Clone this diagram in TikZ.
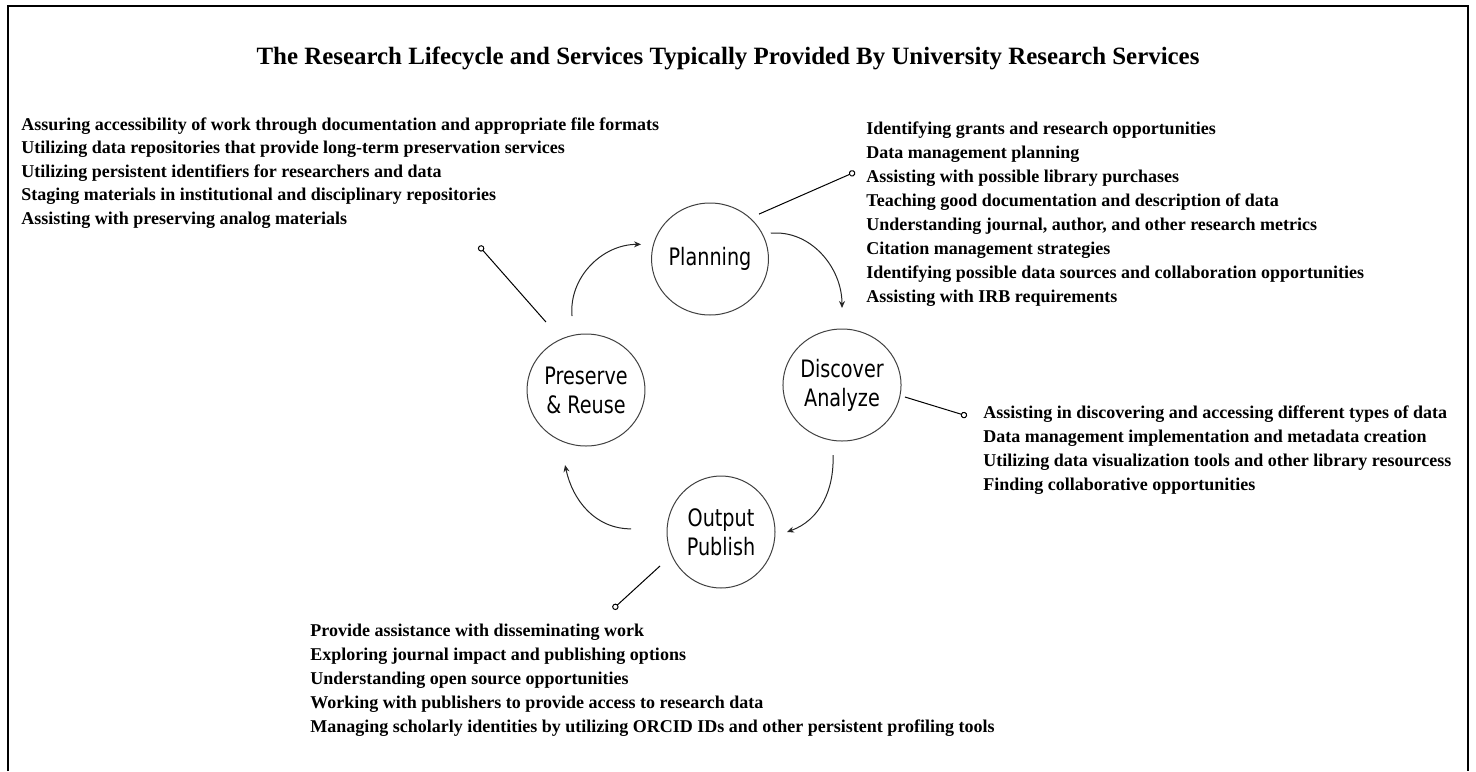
\documentclass[tikz,border=0pt]{standalone}
\usepackage{fontspec}
\setmainfont{Liberation Serif}
\newfontfamily\circfont[FakeStretch=0.8]{DejaVu Sans}
\usetikzlibrary{calc,arrows.meta,shapes.geometric}
\begin{document}
\begin{tikzpicture}[x=0.5pt,y=0.5pt,
  stage/.style={draw=black!75, line width=0.5pt, ellipse, minimum width=54pt, minimum height=56pt, inner sep=0pt, align=center, font=\circfont\fontsize{12}{14.5}\selectfont},
  svc/.style={anchor=north west, inner sep=0pt, align=left, font=\bfseries\fontsize{9}{12}\selectfont},
  cyc/.style={draw=black!85, line width=0.5pt, -{Stealth[length=3.5pt,width=3pt]}},
  lead/.style={draw=black, line width=0.5pt, -{Circle[open,length=3.2pt,width=3.2pt,fill=white]}},
]
\useasboundingbox (0,0) rectangle (1476,-771);
\draw[line width=1pt] (8,-771) -- (8,-6) -- (1468,-6) -- (1468,-771);

\node[font=\bfseries\fontsize{12.45}{15}\selectfont, anchor=base] (title) at (728,-64)
  {The Research Lifecycle and Services Typically Provided By University Research Services};

\node[stage] (plan) at (710,-259) {Planning};
\node[stage] (pres) at (586,-390) {Preserve\\\& Reuse};
\node[stage] (disc) at (842,-385) {Discover\\Analyze};
\node[stage] (outp) at (721,-532) {Output\\Publish};

\draw[cyc] ($(pres)+(100.7:75.3)$) to[out=95,in=180] ($(plan)+(168:70.5)$);
\draw[cyc] ($(plan)+(23:66)$) to[out=5,in=90] ($(disc)+(90:77)$);
\draw[cyc] ($(disc)+(262.7:70.6)$) to[out=-88,in=20] ($(outp)+(0:66)$);
\draw[cyc] ($(outp)+(178:90)$) to[out=180,in=-78] ($(pres)+(254.4:77.9)$);

\coordinate (k1) at (479,-246);
\coordinate (k2) at (855,-172);
\coordinate (k3) at (967,-416);
\coordinate (k4) at (613,-609);
\draw[lead] ($(pres)+(120.5:78.9)$) -- (k1);
\draw[lead] ($(plan)+(42.5:66.5)$) -- (k2);
\draw[lead] ($(disc)+(-10.8:64.1)$) -- (k3);
\draw[lead] ($(outp)+(209.1:69.8)$) -- (k4);

\node[svc, font=\bfseries\fontsize{9}{11.75}\selectfont] (tl) at (21,-113.5) {\strut Assuring accessibility of work through documentation and appropriate file formats\\
Utilizing data repositories that provide long-term preservation services\\
Utilizing persistent identifiers for researchers and data\\
Staging materials in institutional and disciplinary repositories\\
Assisting with preserving analog materials};

\node[svc] (tp) at (866,-117.2) {\strut Identifying grants and research opportunities\\
Data management planning\\
Assisting with possible library purchases\\
Teaching good documentation and description of data\\
Understanding journal, author, and other research metrics\\
Citation management strategies\\
Identifying possible data sources and collaboration opportunities\\
Assisting with IRB requirements};

\node[svc] (td) at (983,-401) {\strut Assisting in discovering and accessing different types of data\\
Data management implementation and metadata creation\\
Utilizing data visualization tools and other library resourcess\\
Finding collaborative opportunities};

\node[svc] (txo) at (310,-619) {\strut Provide assistance with disseminating work\\
Exploring journal impact and publishing options\\
Understanding open source opportunities\\
Working with publishers to provide access to research data\\
Managing scholarly identities by utilizing ORCID IDs and other persistent profiling tools};
\end{tikzpicture}
\end{document}
